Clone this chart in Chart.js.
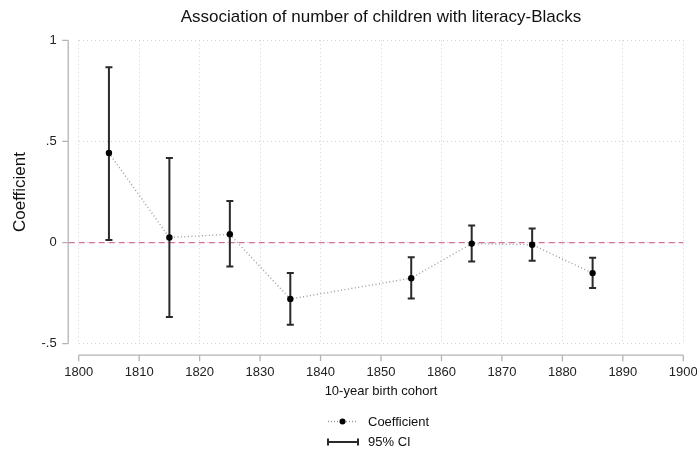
<!DOCTYPE html>
<html>
<head>
<meta charset="utf-8">
<script src="https://cdn.jsdelivr.net/npm/chart.js@4"></script>
<style>
html,body{margin:0;padding:0;background:#fff;}
#wrap{width:697px;height:451px;position:relative;}
</style>
</head>
<body>
<div id="wrap"><canvas id="c" width="697" height="451"></canvas></div>
<script>
// ---- data ----
const cohorts = [1805, 1815, 1825, 1835, 1855, 1865, 1875, 1885];
const coef    = [0.443, 0.025, 0.041, -0.279, -0.176, -0.005, -0.011, -0.151];
const ciLow   = [0.013, -0.368, -0.118, -0.406, -0.276, -0.094, -0.090, -0.225];
const ciHigh  = [0.867, 0.418, 0.205, -0.150, -0.072, 0.084, 0.069, -0.075];
const yTickValues = [-0.5, 0, 0.5, 1];
const yTickLabels = ['-.5', '0', '.5', '1'];
const titleText = 'Association of number of children with literacy-Blacks';
const xTitle = '10-year birth cohort';
const yTitle = 'Coefficient';
const legendLabels = ['Coefficient', '95% CI'];

const FONT = '"Liberation Sans", Arial, Helvetica, sans-serif';

const decor = {
  id: 'decor',
  beforeDatasetsDraw(chart) {
    const ctx = chart.ctx, ca = chart.chartArea;
    const xs = chart.scales.x, ys = chart.scales.y;
    // reference line at 0
    ctx.save();
    ctx.strokeStyle = '#d56fa0';
    ctx.lineWidth = 1.2;
    ctx.setLineDash([6, 4]);
    const y0 = ys.getPixelForValue(0);
    ctx.beginPath(); ctx.moveTo(ca.left - 10, y0); ctx.lineTo(ca.right, y0); ctx.stroke();
    ctx.restore();
    // error bars
    ctx.save();
    ctx.strokeStyle = '#2a2a2a';
    ctx.lineWidth = 2;
    for (let i = 0; i < cohorts.length; i++) {
      const x = xs.getPixelForValue(cohorts[i]);
      const yl = ys.getPixelForValue(ciLow[i]);
      const yh = ys.getPixelForValue(ciHigh[i]);
      ctx.beginPath();
      ctx.moveTo(x, yl); ctx.lineTo(x, yh);
      ctx.moveTo(x - 3.5, yl); ctx.lineTo(x + 3.5, yl);
      ctx.moveTo(x - 3.5, yh); ctx.lineTo(x + 3.5, yh);
      ctx.stroke();
    }
    ctx.restore();
  },
  afterDraw(chart) {
    const ctx = chart.ctx, ca = chart.chartArea;
    const xs = chart.scales.x, ys = chart.scales.y;
    const axX = ca.left - 10.5, axY = ca.bottom + 11.5;
    ctx.save();
    // axes lines
    ctx.strokeStyle = '#b4b4b4';
    ctx.lineWidth = 1.3;
    ctx.beginPath();
    ctx.moveTo(axX, ys.getPixelForValue(1)); ctx.lineTo(axX, ys.getPixelForValue(-0.5));
    ctx.moveTo(xs.getPixelForValue(1800), axY); ctx.lineTo(xs.getPixelForValue(1900), axY);
    yTickValues.forEach(v => { const p = ys.getPixelForValue(v); ctx.moveTo(axX, p); ctx.lineTo(axX - 6, p); });
    xs.ticks.forEach(t => { const p = xs.getPixelForValue(t.value); ctx.moveTo(p, axY); ctx.lineTo(p, axY + 6); });
    ctx.stroke();
    // titles
    ctx.fillStyle = '#111';
    ctx.textAlign = 'center';
    ctx.textBaseline = 'middle';
    ctx.font = '17px ' + FONT;
    ctx.fillText(titleText, (ca.left + ca.right) / 2, 17);
    ctx.font = '13px ' + FONT;
    ctx.fillText(xTitle, (ca.left + ca.right) / 2, 391);
    ctx.save();
    ctx.translate(20, (ca.top + ca.bottom) / 2);
    ctx.rotate(-Math.PI / 2);
    ctx.font = '17px ' + FONT;
    ctx.fillText(yTitle, 0, 0);
    ctx.restore();
    // legend
    ctx.textAlign = 'left';
    ctx.font = '13px ' + FONT;
    ctx.fillText(legendLabels[0], 368, 422);
    ctx.fillText(legendLabels[1], 368, 442);
    ctx.strokeStyle = '#999';
    ctx.lineWidth = 1.3;
    ctx.setLineDash([1, 2]);
    ctx.beginPath(); ctx.moveTo(328, 421.5); ctx.lineTo(358, 421.5); ctx.stroke();
    ctx.setLineDash([]);
    ctx.fillStyle = '#000';
    ctx.beginPath(); ctx.arc(342.5, 421.5, 3, 0, Math.PI * 2); ctx.fill();
    ctx.strokeStyle = '#2a2a2a';
    ctx.lineWidth = 2;
    ctx.beginPath();
    ctx.moveTo(328, 442); ctx.lineTo(358, 442);
    ctx.moveTo(328, 438.5); ctx.lineTo(328, 445.5);
    ctx.moveTo(358, 438.5); ctx.lineTo(358, 445.5);
    ctx.stroke();
    ctx.restore();
  }
};

new Chart(document.getElementById('c'), {
  type: 'scatter',
  data: {
    datasets: [{
      label: legendLabels[0],
      data: cohorts.map((c, i) => ({ x: c, y: coef[i] })),
      showLine: true,
      borderColor: '#9a9a9a',
      borderWidth: 1.4,
      borderDash: [1, 2.5],
      pointRadius: 3.2,
      pointBackgroundColor: '#000',
      pointBorderColor: '#000',
      pointBorderWidth: 0,
      tension: 0
    }]
  },
  options: {
    responsive: false,
    animation: false,
    devicePixelRatio: 1,
    layout: { padding: { left: 0, right: 13.7, top: 40.3, bottom: 0 } },
    plugins: { legend: { display: false }, title: { display: false }, tooltip: { enabled: false } },
    scales: {
      x: {
        type: 'linear', min: 1800, max: 1900,
        afterFit(s) { s.height = 107.3; s.paddingRight = 0; s.paddingLeft = 0; },
        border: { display: false, dash: [1, 3] },
        grid: { color: '#d0d0d0', lineWidth: 1, drawTicks: false },
        ticks: {
          stepSize: 10, padding: 21, color: '#222',
          font: { family: FONT, size: 13 },
          callback: v => String(v)
        }
      },
      y: {
        type: 'linear', min: -0.5, max: 1,
        afterFit(s) { s.width = 78.7; s.paddingTop = 0; s.paddingBottom = 0; },
        afterBuildTicks(s) { s.ticks = yTickValues.map(v => ({ value: v })); },
        border: { display: false, dash: [1, 3] },
        grid: { color: '#d0d0d0', lineWidth: 1, drawTicks: false },
        ticks: {
          padding: 22, color: '#222',
          font: { family: FONT, size: 13 },
          callback: v => { const i = yTickValues.indexOf(v); return i >= 0 ? yTickLabels[i] : ''; }
        }
      }
    }
  },
  plugins: [decor]
});
</script>
</body>
</html>
